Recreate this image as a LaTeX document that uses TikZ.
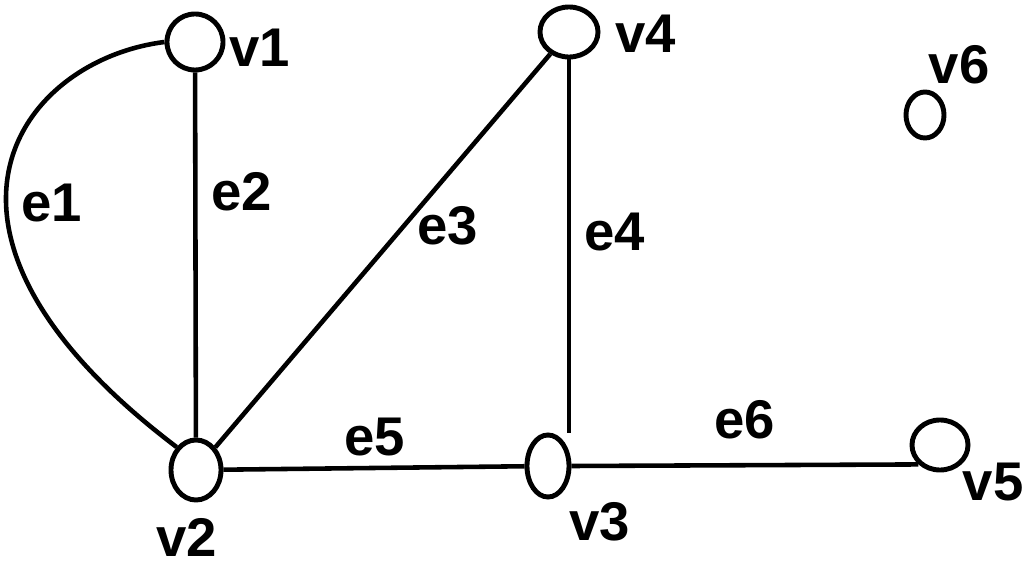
\documentclass[tikz,border=0pt]{standalone}
\usepackage{fontspec}
\setmainfont{Liberation Sans}
\usetikzlibrary{shapes.geometric}

\begin{document}
\begin{tikzpicture}[
  x=0.01cm,y=-0.01cm,
  vtx/.style={draw,ellipse,line width=1.4pt,inner sep=0pt},
  lbl/.style={font=\fontsize{15.5}{17}\selectfont\bfseries,inner sep=0pt},
  edge/.style={line width=1.3pt}
]
\useasboundingbox (0,0) rectangle (1024,564);
% vertices
\node[vtx,minimum width=5.6mm,minimum height=5.6mm] (v1) at (195,42) {};
\node[vtx,minimum width=5.0mm,minimum height=6.0mm] (v2) at (196,470) {};
\node[vtx,minimum width=4.2mm,minimum height=6.2mm] (v3) at (548,466) {};
\node[vtx,minimum width=5.8mm,minimum height=5.0mm] (v4) at (569,32) {};
\node[vtx,minimum width=5.6mm,minimum height=5.0mm] (v5) at (940,445) {};
\node[vtx,minimum width=3.8mm,minimum height=4.6mm] (v6) at (925,115) {};
% vertex names
\node[lbl] (lv1) at (260,48) {v1};
\node[lbl] (lv2) at (187,537) {v2};
\node[lbl] (lv3) at (600,522) {v3};
\node[lbl] (lv4) at (646,34) {v4};
\node[lbl] (lv5) at (993,482) {v5};
\node[lbl] (lv6) at (959,65) {v6};
% edges
\draw[edge] (v1.west) .. controls (20,60) and (-110,230) .. (v2.north west);
\draw[edge] (v1) -- (v2);
\draw[edge] (v2) -- (v4);
\draw[edge] (v4.south) -- (v4.south |- v3.north);
\draw[edge] (v2) -- (v3);
\draw[edge] (v3.east) -- (v5.south west);
% edge names
\node[lbl] (le1) at (52,203) {e1};
\node[lbl] (le2) at (242,192) {e2};
\node[lbl] (le3) at (448,226) {e3};
\node[lbl] (le4) at (615,232) {e4};
\node[lbl] (le5) at (375,437) {e5};
\node[lbl] (le6) at (745,420) {e6};
\end{tikzpicture}
\end{document}
